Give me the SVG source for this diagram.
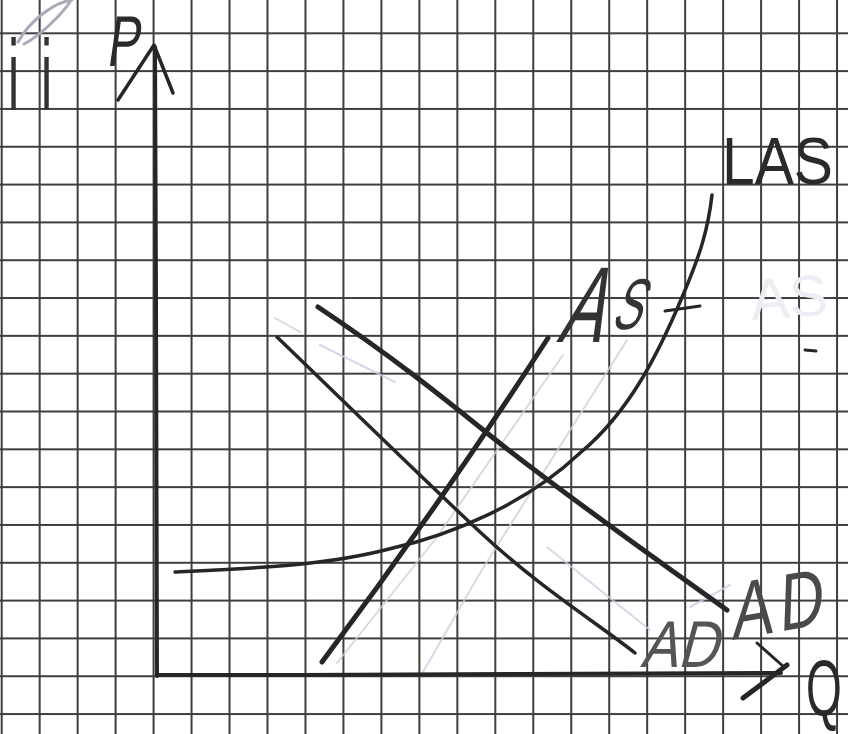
<svg xmlns="http://www.w3.org/2000/svg" width="848" height="734" viewBox="0 0 848 734">
<style>
.ink{fill:none;stroke:#262626;stroke-linecap:round;stroke-linejoin:round}
.faint{fill:none;stroke:#cdcfe1;stroke-width:2;stroke-linecap:round;opacity:0.8}
.lbl{font-family:"Liberation Sans",Arial,sans-serif}
</style>
<defs>
<pattern id="cells" patternUnits="userSpaceOnUse" x="-17.285" y="14.39" width="37.97" height="37.82">
<path d="M18.985,0V37.82M0,18.91H37.97" fill="none" stroke="#3e3e3e" stroke-width="2"/>
</pattern>
</defs>
<rect width="848" height="734" fill="#ffffff"/>
<g id="grid">
<rect width="848" height="734" fill="url(#cells)"/>
</g>
<g id="faint-marks">
<path class="faint" d="M337,663 L437,537 L563,355"/>
<path class="faint" d="M423,672 L480,573 L627,340"/>
<path class="faint" d="M275,318 L300,332 M320,345 L395,382"/>
<path class="faint" d="M547,547 L600,590 L650,630"/>
<path class="faint" d="M690,607 L730,585"/>
<path d="M18,42 C30,20 55,2 72,0 M24,44 C40,36 62,14 70,2" fill="none" stroke="#a9abb8" stroke-width="3" stroke-linecap="round"/>
<text class="lbl" x="752" y="320" font-size="58" fill="#eceef4" transform="rotate(-4 752 320)">AS</text>
</g>
<g id="axes">
<path class="ink" stroke-width="4" d="M155,47 L156,300 L157,676"/>
<path class="ink" stroke-width="4" d="M157,675 L300,675 L520,674 L781,673"/>
<path class="ink" stroke-width="3.5" d="M118,100 L154,45 L173,93"/>
<path class="ink" stroke-width="3" d="M757,643 L784,667"/>
<path class="ink" stroke-width="5" d="M743,698 L787,665"/>
</g>
<g id="connectors">
<path id="curve-LAS" class="ink" stroke-width="3.5" d="M175,572 C260,568 330,565 393,548 C450,535 525,505 580,453 C630,412 660,350 683,295 C700,255 708,230 712,195"/>
<path id="curve-AS" class="ink" stroke-width="5" d="M322,662 Q440,505 548,338"/>
<path id="curve-AD1" class="ink" stroke-width="3.5" d="M277,337 C330,388 420,476 480,532 S600,625 635,653"/>
<path id="curve-AD2" class="ink" stroke-width="5" d="M318,307 C390,355 440,395 487,433 S640,548 727,610"/>
<path class="ink" stroke-width="3" d="M665,311 L700,306"/>
<path class="ink" stroke-width="3" d="M805,350 L816,351"/>
</g>
<g id="labels" class="lbl">
<g id="label-ii"><text transform="translate(8,110) scale(0.5,1)" font-size="100" fill="#333" letter-spacing="44">ii</text></g>
<g id="label-P"><text transform="translate(106,66) skewX(-8) scale(0.68,1)" font-size="72" fill="#2a2a2a">P</text></g>
<g id="label-LAS"><text x="722" y="184" font-size="66" textLength="111" lengthAdjust="spacingAndGlyphs" fill="#2a2a2a">LAS</text></g>
<g id="label-AS"><text transform="translate(556,342) skewX(-20) scale(0.6,1)" fill="#333"><tspan font-size="108">A</tspan><tspan font-size="72" dy="-13" dx="10">S</tspan></text></g>
<g id="label-AD1"><text transform="translate(640,667) skewX(-15) scale(0.84,1)" font-size="66" fill="#555">AD</text></g>
<g id="label-AD2"><text transform="translate(732,640) rotate(-10) skewX(-12) scale(0.78,1)" font-size="80" fill="#4a4a4a" letter-spacing="8">AD</text></g>
<g id="label-Q"><text transform="translate(806,716) scale(0.64,1.1)" font-size="72" fill="#2a2a2a">Q</text></g>
</g>
</svg>
